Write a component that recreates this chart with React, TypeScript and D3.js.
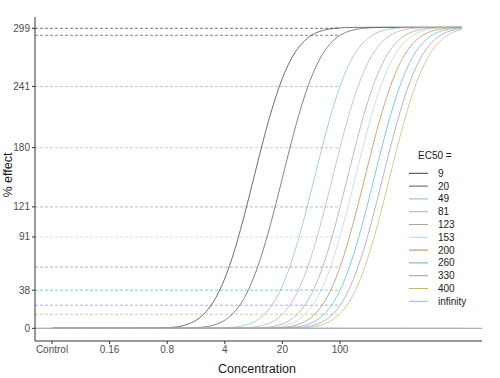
import React from "react";
import * as d3 from "d3";

// ---- data ----
const ec50Labels = ["9", "20", "49", "81", "123", "153", "200", "260", "330", "400", "infinity"];
const ec50Values = [9, 20, 49, 81, 123, 153, 200, 260, 330, 400, Infinity];
const seriesColors = ["#3a3a3a", "#5a5a5a", "#86c6a6", "#cf9fc6", "#a9a98f", "#b2d9d3", "#b58c55", "#55b9c2", "#a292c9", "#c6b673", "#a6aecf"];
// effect at concentration 100 for each curve (dashed reference lines)
const refValues = [299, 292, 241, 180, 121, 91, 61, 38, 23, 14, 0];
const xTickValues = [0.032, 0.16, 0.8, 4, 20, 100];
const xTickLabels = ["Control", "0.16", "0.8", "4", "20", "100"];
const yTickValues = [0, 38, 91, 121, 180, 241, 299];
const topEffect = 300;
const slopeSigma = 0.835; // log-normal (probit) slope
const refConc = 100;
const concMin = 0.032;
const concMax = 3000;

// ---- dose-response model (parameterised by EC50) ----
function erf(v: number) {
  const s = v < 0 ? -1 : 1;
  v = Math.abs(v);
  const t = 1 / (1 + 0.3275911 * v);
  const r = 1 - (((((1.061405429 * t - 1.453152027) * t) + 1.421413741) * t - 0.284496736) * t + 0.254829592) * t * Math.exp(-v * v);
  return s * r;
}
function effect(conc: number, ec50: number) {
  if (!isFinite(ec50)) return 0;
  const z = Math.log(conc / ec50) / slopeSigma;
  return topEffect * 0.5 * (1 + erf(z / Math.SQRT2));
}

const W = 500, H = 378;
const x = d3.scaleLog().domain([concMin, refConc]).range([52, 340]);
const y = d3.scaleLinear().domain([0, 299]).range([328.3, 28.3]);
const left = 35, right = 482, top = 17, bottom = 341;

const font = "'Liberation Sans', Arial, Helvetica, sans-serif";

export default function App() {
  const samples = d3.range(0, 301).map(i => concMin * Math.pow(concMax / concMin, i / 300));
  return (
    <svg width={W} height={H} style={{ position: "absolute", left: 0, top: 0, background: "#fff" }} fontFamily={font}>
      {/* baseline at 0 */}
      <line x1={left} x2={right} y1={y(0)} y2={y(0)} stroke="#9a9a9a" strokeWidth={1.1} />
      {/* dashed reference lines */}
      {refValues.map((v, i) => (
        <line key={"r" + i} x1={left} x2={x(refConc)} y1={y(v)} y2={y(v)} stroke={seriesColors[i]} strokeWidth={0.8} strokeDasharray="3,2" opacity={0.9} />
      ))}
      {/* curves */}
      {ec50Values.map((e, i) => {
        const gen = d3.line<number>().x(c => x(c)).y(c => y(effect(c, e)));
        return <path key={"c" + i} d={gen(samples) || ""} fill="none" stroke={seriesColors[i]} strokeWidth={0.75} />;
      })}
      {/* axes */}
      <line x1={left} x2={left} y1={top} y2={bottom} stroke="#333" strokeWidth={1} />
      <line x1={left} x2={right} y1={bottom} y2={bottom} stroke="#333" strokeWidth={1} />
      {yTickValues.map(v => (
        <g key={"y" + v}>
          <line x1={left - 3} x2={left} y1={y(v)} y2={y(v)} stroke="#333" />
          <text x={left - 5} y={y(v)} dy="0.35em" textAnchor="end" fontSize={10} fill="#4d4d4d">{v}</text>
        </g>
      ))}
      {xTickValues.map((v, i) => (
        <g key={"x" + i}>
          <line x1={x(v)} x2={x(v)} y1={bottom} y2={bottom + 3} stroke="#333" />
          <text x={x(v)} y={bottom + 12} textAnchor="middle" fontSize={10} fill="#4d4d4d">{xTickLabels[i]}</text>
        </g>
      ))}
      <text x={257} y={373} textAnchor="middle" fontSize={12.5} fill="#1a1a1a">Concentration</text>
      <text transform={`translate(12,175) rotate(-90)`} textAnchor="middle" fontSize={12.5} fill="#1a1a1a">% effect</text>
      {/* legend */}
      <text x={418} y={159} fontSize={10} fill="#1a1a1a">EC50 =</text>
      {ec50Labels.map((lab, i) => {
        const cy = 173.3 + i * 12.8;
        return (
          <g key={"l" + i}>
            <line x1={409} x2={428} y1={cy} y2={cy} stroke={seriesColors[i]} strokeWidth={1} />
            <text x={438} y={cy} dy="0.35em" fontSize={10} fill="#1a1a1a">{lab}</text>
          </g>
        );
      })}
    </svg>
  );
}
